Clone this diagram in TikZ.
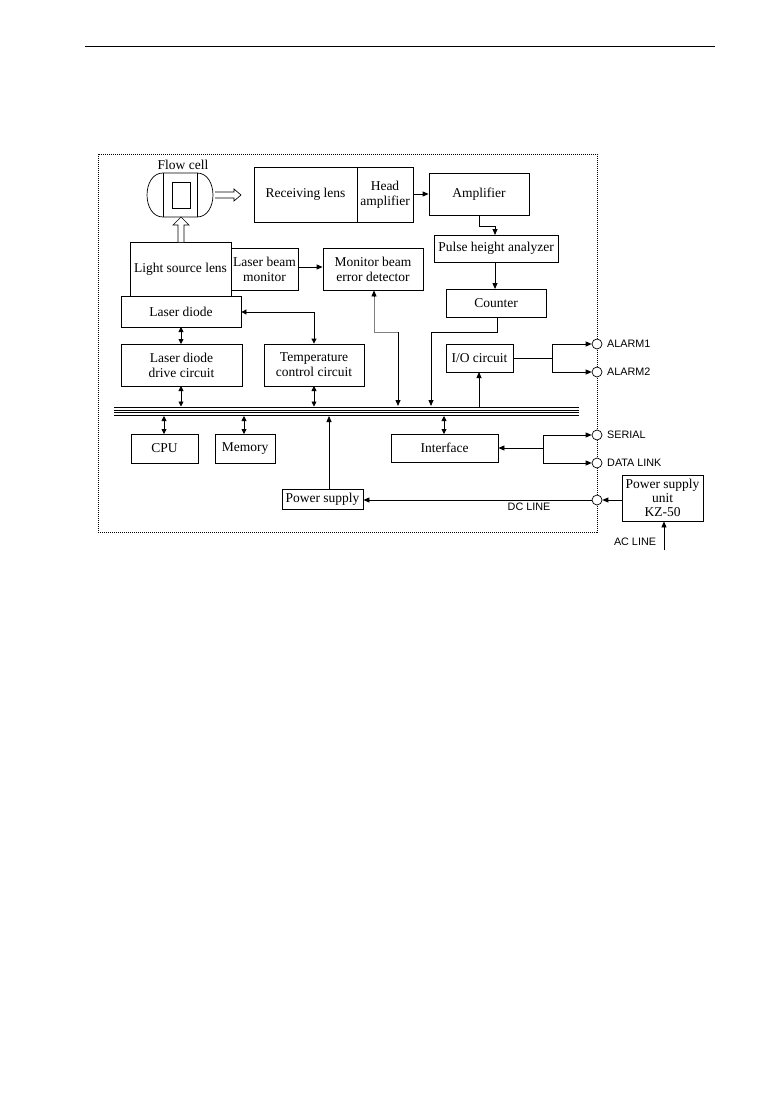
\documentclass[tikz,border=0pt]{standalone}
\usepackage{fontspec}
\setmainfont{Liberation Serif}
\newfontfamily\sansf{Liberation Sans}
\usetikzlibrary{arrows.meta}
\begin{document}
\begin{tikzpicture}[x=1pt,y=-1pt,
 box/.style={draw,line width=0.8pt,inner sep=0pt,align=center,font=\fontsize{13.5}{15}\selectfont},
 port/.style={draw,circle,line width=0.7pt,minimum size=10pt,inner sep=0pt,fill=white},
 lab/.style={font=\sansf\fontsize{10.8}{12}\selectfont,inner sep=0pt},
 conn/.style={line width=0.8pt,-{Triangle[length=6pt,width=5pt]}},
 dconn/.style={line width=0.8pt,{Triangle[length=5pt,width=5pt]}-{Triangle[length=5pt,width=5pt]}},
 hollow/.style={draw,line width=0.7pt,fill=white},
 frame/.style={line width=0.8pt,dash pattern=on 1pt off 1pt},
]
\useasboundingbox (0,0) rectangle (774,1094);
% header rule
\draw[line width=1pt] (85,47) -- (715,47);
% dotted frame
\draw[frame] (98,154) rectangle (597,532);

% flow cell
\node[font=\fontsize{13.5}{15}\selectfont,inner sep=0pt] (flowlab) at (183,165) {Flow cell};
\draw[line width=0.7pt] (163,173) -- (197,173) .. controls (218.3,173) and (218.3,217) .. (197,217) -- (163,217) .. controls (141.7,217) and (141.7,173) .. (163,173);
\draw[line width=0.7pt] (163,173) -- (163,217) (197,173) -- (197,217);
\draw[line width=0.7pt] (172,182) rectangle (190,208);
\coordinate (cellR) at (215,195);
\coordinate (cellB) at (181,217);
% hollow right arrow
\draw[hollow] (215,192) -- (234,192) -- (234,189) -- (241,195) -- (234,201) -- (234,198) -- (215,198);

% boxes
\node[box,minimum width=103pt,minimum height=55pt] (recv) at (305.5,194.5) {Receiving lens};
\node[box,minimum width=56pt,minimum height=55pt] (head) at (385,194.5) {Head\\amplifier};
\node[box,minimum width=100pt,minimum height=42pt] (amp) at (479,194) {Amplifier};
\node[box,minimum width=124pt,minimum height=27pt] (pha) at (496,248.5) {Pulse height analyzer};
\node[box,minimum width=100pt,minimum height=28pt] (counter) at (496,303) {Counter};
\node[box,minimum width=101pt,minimum height=54pt] (lsl) at (180.5,269) {Light source lens};
\node[box,minimum width=67pt,minimum height=42pt] (lbm) at (264.5,269) {Laser beam\\monitor};
\node[box,minimum width=100pt,minimum height=42pt] (mbed) at (373,269) {Monitor beam\\error detector};
\node[box,minimum width=120pt,minimum height=31pt] (ld) at (181,311.5) {Laser diode};
\node[box,minimum width=121pt,minimum height=42pt] (ldd) at (181.5,365) {Laser diode\\drive circuit};
\node[box,minimum width=100pt,minimum height=42pt] (tcc) at (314,365) {Temperature\\control circuit};
\node[box,minimum width=67pt,minimum height=28pt] (io) at (479.5,358) {I/O circuit};
\node[box,minimum width=67pt,minimum height=29pt] (cpu) at (164.5,448.5) {CPU};
\node[box,minimum width=60pt,minimum height=29pt] (mem) at (245,448.5) {Memory};
\node[box,minimum width=107pt,minimum height=28pt] (iface) at (444.5,448) {Interface};
\node[box,minimum width=81pt,minimum height=20pt] (ps) at (322.5,499) {Power supply};
\node[box,minimum width=81pt,minimum height=46pt,font=\fontsize{13.5}{14}\selectfont] (psu) at (662.5,498) {Power supply\\unit\\KZ-50};

% hollow up arrow (light source lens -> flow cell)
\draw[hollow] (178,242) -- (178,225) -- (173,225) -- (181,217) -- (189,225) -- (184,225) -- (184,242);

% bus
\foreach \yy in {407.3,410,412.6,415.2} \draw[line width=0.8pt] (114,\yy) -- (579,\yy);

% ports
\node[port] (p1) at (597,344) {};
\node[port] (p2) at (597,372) {};
\node[port] (p3) at (597,435) {};
\node[port] (p4) at (597,463) {};
\node[port] (p5) at (597,500) {};
\node[lab,anchor=west] (l1) at (607,344) {ALARM1};
\node[lab,anchor=west] (l2) at (607,372) {ALARM2};
\node[lab,anchor=west] (l3) at (607,435) {SERIAL};
\node[lab,anchor=west] (l4) at (607,463) {DATA LINK};
\node[lab] (l5) at (529,507) {DC LINE};
\node[lab] (l6) at (635,542) {AC LINE};

% connectors
\draw[conn] (head.east |- 0,194) -- (amp.west |- 0,194);
\draw[conn] (479,215) -- (479,226) -- (495,226) -- (495,235);
\draw[conn] (495,262) -- (495,289);
\draw[conn] (497,317) -- (497,332) -- (431,332) -- (431,406);
\draw[line width=0.8pt,gray] (374,296) -- (374,332) -- (398,332);
\draw[conn] (374,296) -- (mbed.south -| 374,0);
\draw[conn] (398,332) -- (398,406);
\draw[conn] (lbm.east |- 0,267) -- (mbed.west |- 0,267);
\draw[dconn] (ld.east |- 0,312) -- (314,312) -- (tcc.north);
\draw[dconn] (181,327) -- (181,344);
\draw[dconn] (181,386) -- (181,406.5);
\draw[dconn] (314,386) -- (314,406.5);
\draw[dconn] (164,416) -- (164,434);
\draw[dconn] (244,416) -- (244,434);
\draw[dconn] (444,416) -- (444,434);
\draw[conn] (329,489) -- (329,416);
\draw[conn] (479,406.5) -- (479,372);
\draw[line width=0.8pt] (io.east) -- (552,358);
\draw[conn] (552,358) -- (552,344) -- (p1.west);
\draw[conn] (552,358) -- (552,372) -- (p2.west);
\draw[line width=0.8pt] (543,435) -- (543,463);
\draw[conn] (543,435) -- (p3.west);
\draw[conn] (543,463) -- (p4.west);
\draw[conn] (543,448) -- (iface.east |- 0,448);
\draw[conn] (psu.west |- 0,500) -- (p5.east);
\draw[conn] (p5.west) -- (ps.east |- 0,500);
\draw[conn] (664,550) -- (psu.south -| 664,0);
\end{tikzpicture}
\end{document}
